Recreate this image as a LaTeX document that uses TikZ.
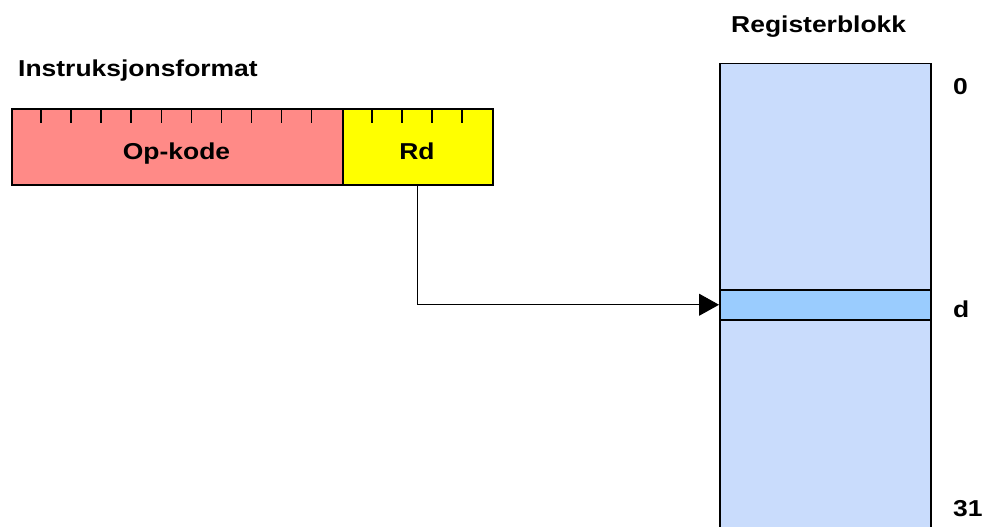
\documentclass[tikz,border=0pt]{standalone}
\usepackage{fontspec}
\setmainfont{Liberation Sans}
\usetikzlibrary{arrows.meta}
\definecolor{opred}{HTML}{FF8A87}
\definecolor{rdyellow}{HTML}{FFFF00}
\definecolor{regblue}{HTML}{C9DCFC}
\definecolor{rowblue}{HTML}{9ACCFE}
\newcommand{\lbl}[1]{\scalebox{1.15}[1]{\bfseries\fontsize{23}{27}\selectfont #1}}
\tikzset{
  field/.style={draw=black, line width=1.5pt, rectangle, inner sep=0pt,
    minimum height=76pt, anchor=north west, text depth=0pt},
  regbox/.style={draw=black, line width=1.5pt, rectangle, inner sep=0pt,
    minimum width=211pt, anchor=north west},
  caption/.style={inner sep=0pt, anchor=base west},
  tick/.style={line width=1.6pt},
  link/.style={line width=1pt, -{Triangle[length=20pt,width=22pt]}}
}
\begin{document}
\begin{tikzpicture}[x=1pt,y=-1pt]
\useasboundingbox (0,0) rectangle (983,527);

% instruction word: opcode field and destination register field
\node[field, fill=opred, minimum width=331pt] (op) at (11,108) {};
\node[field, fill=rdyellow, minimum width=150pt] (rd) at (342,108) {};
\node[caption, anchor=base] (optext) at (176.5,159) {\lbl{Op-kode}};
\node[caption, anchor=base] (rdtext) at (417,159) {\lbl{Rd}};
% bit ticks along the top edge
\foreach \k in {1,...,10,12,13,14,15}
  \draw[tick] (11+30.06*\k,108) -- (11+30.06*\k,123);

\node[caption] (fmt) at (18,77) {\lbl{Instruksjonsformat}};

% register file, running off the bottom edge
\begin{scope}
  \clip (0,0) rectangle (983,527);
  \node[regbox, fill=regblue, minimum height=480pt] (reg) at (719,63) {};
\end{scope}
\node[regbox, fill=rowblue, minimum height=30pt] (rowd) at (719,289) {};

\node[caption] (regtitle) at (731,33) {\lbl{Registerblokk}};
\node[caption] (n0) at (953,95) {\lbl{0}};
\node[caption] (nd) at (953,317) {\lbl{d}};
\node[caption] (n31) at (953,516) {\lbl{31}};

% register selection
\draw[link] (rd.south) |- (rowd.west);
\end{tikzpicture}
\end{document}
